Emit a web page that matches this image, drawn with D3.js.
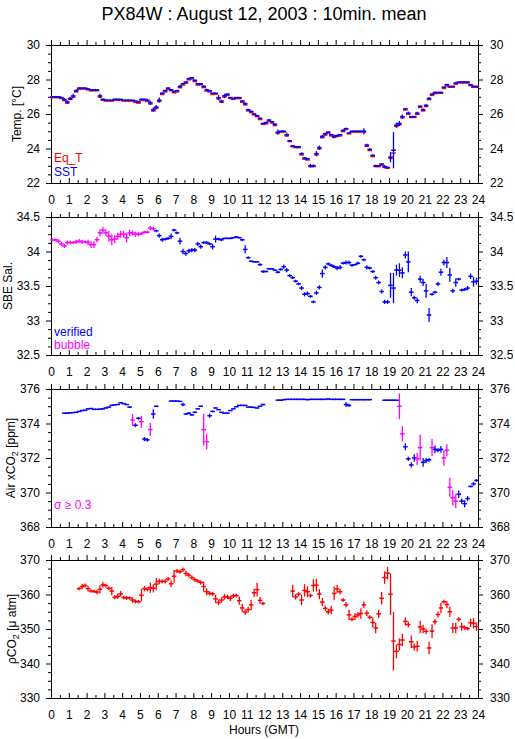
<!DOCTYPE html>
<html><head><meta charset="utf-8">
<script src="https://cdn.jsdelivr.net/npm/d3@7"></script>
<style>
body{margin:0;background:#fff}
text{font-family:"Liberation Sans",Arial,Helvetica,sans-serif}
</style>
</head><body>
<svg id="chart" width="515" height="739"></svg>
<script>
// ---------------- DATA (10-minute means; 6 slots per hour) ----------------
const titleText = "PX84W : August 12, 2003 : 10min. mean";
const xTickLabels = ["0","1","2","3","4","5","6","7","8","9","10","11","12","13","14","15","16","17","18","19","20","21","22","23","24"];
const tempTicks = [22,24,26,28,30];
const salTicks = [32.5,33,33.5,34,34.5];
const airTicks = [368,370,372,374,376];
const pco2Ticks = [330,340,350,360,370];

const sst = [
 27.0,27.0,27.0,26.95,26.85,26.7,
 26.9,27.05,27.35,27.5,27.5,27.5,
 27.45,27.4,27.4,27.4,27.05,26.85,
 26.8,26.8,26.8,26.85,26.85,26.85,
 26.8,26.8,26.8,26.8,26.75,26.7,
 26.85,26.85,26.8,26.65,26.25,26.4,
 26.8,27.2,27.35,27.5,27.4,27.3,
 27.35,27.6,27.75,27.85,28.05,28.1,
 27.95,27.75,27.75,27.6,27.4,27.35,
 27.2,27.2,26.95,26.75,27.05,27.15,
 26.95,26.9,26.95,26.95,26.75,26.6,
 26.25,26.15,26.0,25.9,25.75,25.45,
 25.5,25.65,25.55,25.4,24.95,25.0,
 25.0,24.8,24.45,24.15,24.1,24.1,
 23.7,23.45,23.4,23.0,23.0,23.7,
 24.05,24.7,24.85,24.95,24.8,24.7,
 24.75,24.8,25.05,25.15,24.9,25.0,
 25.0,25.0,25.0,25.0,24.2,23.95,
 23.6,23.0,23.0,23.1,22.95,22.9,
 23.5,23.9,25.35,25.45,25.85,26.3,
 26.05,25.85,25.85,26.05,26.45,26.25,
 26.5,26.9,27.15,27.25,27.25,27.25,
 27.55,27.7,27.6,27.6,27.8,27.85,
 27.85,27.85,27.85,27.7,27.6,27.6];
const sstSd = [
 0,0,0,0.05,0.08,0.1,
 0.1,0.12,0.08,0.05,0.03,0.03,
 0.03,0,0,0,0.12,0.05,
 0.05,0,0,0.03,0,0,
 0,0,0,0,0,0.05,
 0.05,0.03,0.08,0.12,0.12,0.12,
 0.15,0.08,0.06,0.05,0.05,0.05,
 0.05,0.1,0.06,0.05,0.05,0.04,
 0.05,0.04,0.04,0.08,0.06,0.04,
 0,0.05,0.15,0.08,0.12,0.06,
 0.04,0.03,0.03,0.03,0.05,0.08,
 0.05,0.04,0.04,0.04,0.04,0.05,
 0.05,0.05,0.05,0.08,0.15,0.03,
 0.03,0.12,0.06,0.06,0.05,0.05,
 0.08,0.06,0.06,0.1,0.08,0.15,
 0.12,0.1,0.08,0.04,0.06,0.1,
 0.05,0.05,0.06,0.05,0.05,0.03,
 0.03,0.03,0.03,0.18,0.08,0.06,
 0.06,0.06,0.03,0.06,0.1,0.05,
 0.3,1.05,0.15,0.15,0.12,0.05,
 0.1,0.03,0.03,0.08,0.05,0.08,
 0.08,0.08,0.05,0.04,0.03,0.04,
 0.05,0.05,0.03,0.03,0.04,0.03,
 0.03,0.03,0.03,0.03,0.03,0.03];
const eqT = [
 26.95,26.95,26.95,26.9,26.78,26.63,
 26.85,26.98,27.28,27.43,27.45,27.45,
 27.4,27.35,27.35,27.35,26.98,26.8,
 26.75,26.75,26.75,26.8,26.8,26.8,
 26.75,26.75,26.75,26.75,26.68,26.63,
 26.8,26.78,26.73,26.58,26.18,26.33,
 26.73,27.13,27.28,27.43,27.35,27.23,
 27.28,27.53,27.68,27.78,27.98,28.03,
 27.88,27.68,27.7,27.53,27.33,27.28,
 27.13,27.15,26.88,26.68,26.98,27.08,
 26.9,26.85,26.9,26.9,26.68,26.53,
 26.18,26.08,25.95,25.85,25.68,25.4,
 25.43,25.58,25.48,25.33,24.88,24.95,
 24.95,24.73,24.4,24.1,24.05,24.05,
 23.63,23.38,23.33,22.95,22.95,23.63,
 23.98,24.63,24.78,24.9,24.73,24.65,
 24.7,24.73,24.98,25.1,24.85,24.95,
 24.95,24.95,24.95,24.95,24.13,23.88,
 23.53,22.95,22.95,23.03,22.9,22.85,
 23.43,23.73,25.28,25.38,25.78,26.23,
 25.98,25.8,25.8,25.98,26.38,26.18,
 26.43,26.83,27.08,27.18,27.2,27.2,
 27.48,27.63,27.55,27.55,27.73,27.8,
 27.8,27.8,27.8,27.65,27.55,27.55];

const sal = [
 34.17,34.17,34.15,34.11,34.08,34.13,
 34.13,34.13,34.14,34.15,34.14,34.14,
 34.13,34.1,34.1,34.17,34.27,34.31,
 34.27,34.22,34.17,34.18,34.22,34.25,
 34.25,34.2,34.27,34.27,34.25,34.25,
 34.26,34.28,34.28,34.34,34.33,34.3,
 34.23,34.17,34.18,34.19,34.22,34.31,
 34.27,34.15,34.0,33.97,34.01,34.02,
 34.02,34.11,34.07,34.13,34.13,34.11,
 34.07,34.18,34.18,34.17,34.19,34.19,
 34.19,34.2,34.21,34.2,34.17,34.03,
 33.91,33.86,33.85,33.85,33.81,33.71,
 33.71,33.75,33.75,33.73,33.7,33.74,
 33.78,33.73,33.65,33.62,33.57,33.53,
 33.47,33.38,33.39,33.35,33.27,33.4,
 33.48,33.68,33.77,33.82,33.8,33.78,
 33.76,33.77,33.83,33.84,33.84,33.8,
 33.81,33.83,33.93,33.88,33.77,33.76,
 33.71,33.62,33.55,33.42,33.27,33.27,
 33.51,33.47,33.73,33.73,33.69,33.95,
 33.85,33.41,33.33,33.29,33.6,33.55,
 33.43,33.08,33.38,33.41,33.53,33.7,
 33.84,33.84,33.66,33.43,33.55,33.6,
 33.44,33.45,33.47,33.64,33.56,33.57];
const salSd = [
 0.02,0.02,0.03,0.03,0.03,0.03,
 0.03,0.02,0.03,0.03,0.03,0.02,
 0.04,0.05,0.05,0.04,0.05,0.05,
 0.05,0.08,0.08,0.06,0.05,0.05,
 0.05,0.07,0.05,0.04,0.04,0.03,
 0.02,0.02,0.02,0.03,0.03,0.02,
 0.03,0.03,0.02,0.02,0.04,0.02,
 0.02,0.05,0.04,0.03,0.03,0.03,
 0.03,0.03,0.03,0.02,0.02,0.02,
 0.04,0.05,0.02,0.02,0.01,0.01,
 0.01,0.01,0.01,0.01,0.02,0.06,
 0.02,0.01,0.01,0.01,0.02,0.02,
 0.01,0.01,0.01,0.01,0.02,0.02,
 0.03,0.03,0.02,0.02,0.02,0.02,
 0.03,0.03,0.03,0.02,0.02,0.03,
 0.03,0.06,0.03,0.02,0.02,0.02,
 0.03,0.03,0.02,0.03,0.03,0.02,
 0.01,0.02,0.02,0.02,0.03,0.02,
 0.02,0.03,0.03,0.03,0.03,0.03,
 0.18,0.22,0.08,0.1,0.08,0.05,
 0.15,0.06,0.03,0.04,0.05,0.05,
 0.1,0.1,0.02,0.02,0.03,0.05,
 0.04,0.08,0.1,0.03,0.06,0.02,
 0.02,0.02,0.03,0.04,0.07,0.05];
const salBubbleHours = [0, 5.833];   // flagged "bubble" period

const airX = [
 null,null,null,null,374.6,374.6,
 374.62,374.63,374.65,374.7,374.75,374.77,
 374.85,374.87,374.82,374.82,374.83,374.85,
 374.9,374.95,375.05,375.08,375.1,375.2,
 375.15,375.1,374.95,374.2,373.9,374.3,
 374.1,373.1,373.05,373.65,374.55,375.0,
 null,null,null,null,375.3,375.3,
 375.3,375.28,375.1,374.55,374.6,374.5,
 374.65,374.85,375.0,373.65,372.95,374.45,
 374.7,374.9,374.8,374.65,374.6,374.6,
 374.75,374.85,374.97,375.05,375.05,375.05,
 374.95,374.95,374.93,374.9,375.0,375.1,
 null,null,null,null,375.35,375.35,
 375.38,375.4,375.4,375.4,375.4,375.4,
 375.4,375.4,375.38,375.4,375.4,375.4,
 375.4,375.4,375.4,375.42,375.4,375.4,
 375.4,375.4,375.4,375.1,375.05,375.38,
 375.38,375.38,375.38,375.38,375.38,375.38,
 null,null,null,null,375.35,375.35,
 375.35,375.35,375.35,375.0,373.4,372.65,
 371.95,371.6,372.0,371.95,372.6,371.75,
 371.85,371.9,372.6,372.5,372.45,372.5,
 372.0,372.45,370.3,369.7,369.5,369.9,
 369.5,369.35,369.65,370.35,370.5,370.7];
const airSd = [
 0,0,0,0,0.02,0.02,
 0.02,0.02,0.02,0.02,0.02,0.02,
 0.02,0.02,0.02,0.02,0.02,0.02,
 0.02,0.02,0.03,0.02,0.02,0.03,
 0.02,0.02,0.05,0.35,0.12,0.08,
 0.35,0.12,0.1,0.38,0.28,0.05,
 0,0,0,0,0.02,0.02,
 0.02,0.02,0.1,0.05,0.05,0.05,
 0.05,0.03,0.03,0.92,0.45,0.12,
 0.05,0.03,0.03,0.02,0.02,0.02,
 0.02,0.02,0.02,0.02,0.02,0.02,
 0.02,0.02,0.02,0.03,0.03,0.05,
 0,0,0,0,0.02,0.02,
 0.02,0.02,0.02,0.02,0.02,0.02,
 0.02,0.02,0.02,0.02,0.02,0.02,
 0.02,0.02,0.02,0.02,0.02,0.02,
 0.02,0.02,0.02,0.15,0.1,0.02,
 0.02,0.02,0.02,0.02,0.02,0.02,
 0,0,0,0,0.02,0.02,
 0.02,0.02,0.02,0.75,0.45,0.2,
 0.12,0.15,0.22,0.35,0.75,0.25,
 0.15,0.12,0.5,0.22,0.12,0.2,
 0.45,0.35,0.55,0.45,0.4,0.22,
 0.15,0.2,0.15,0.05,0.1,0.08];
const sigmaLimit = 0.3;

const pco2 = [
 null,null,null,null,null,null,
 null,null,null,361.7,362.3,362.6,
 361.7,361.0,360.9,360.7,361.5,362.8,
 362.6,361.8,361.0,359.2,359.5,360.2,
 359.1,359.0,359.0,358.4,358.0,357.9,
 359.8,361.7,361.5,362.0,361.8,363.0,
 363.8,363.8,363.8,364.5,363.1,365.3,
 366.8,366.6,367.2,366.1,365.6,364.9,
 364.3,363.9,363.5,362.3,360.8,360.3,
 360.2,358.7,357.7,358.4,359.3,359.3,
 358.9,359.6,359.7,358.2,356.1,354.9,
 355.6,357.0,360.5,361.4,358.3,357.4,
 null,null,null,null,null,null,
 null,null,null,361.0,359.3,360.1,
 358.4,361.2,360.8,359.7,362.6,362.7,
 360.1,357.8,356.0,355.0,355.5,360.3,
 361.6,360.8,358.4,357.0,354.1,352.8,
 353.6,354.1,354.5,357.0,354.6,353.4,
 351.9,350.3,354.4,358.9,364.9,366.2,
 360.1,346.5,343.5,345.5,346.8,352.2,
 351.3,346.3,344.8,345.0,350.6,350.0,
 349.3,344.5,349.4,352.1,354.2,356.1,
 357.9,357.1,355.0,350.3,350.3,352.8,
 350.7,350.4,350.1,351.8,351.7,350.7];
const pco2Sd = [
 0,0,0,0,0,0,
 0,0,0,0.5,0.8,0.6,
 0.8,0.5,0.5,0.6,1.2,0.8,
 0.6,0.6,1.2,0.6,0.8,0.8,
 0.5,0.6,0.5,0.8,0.6,0.5,
 1.8,0.8,0.6,1.5,1.2,1.8,
 0.8,0.6,0.6,0.6,1.0,1.8,
 0.6,0.6,0.6,0.8,0.6,0.6,
 0.6,0.5,0.6,1.5,1.0,0.6,
 0.6,1.2,0.8,0.8,0.8,0.6,
 0.8,0.6,0.6,1.2,1.2,0.8,
 0.8,1.5,1.2,2.0,1.0,0.5,
 0,0,0,0,0,0,
 0,0,0,1.8,0.8,0.6,
 1.5,1.8,1.5,0.6,1.8,1.8,
 1.5,1.2,0.8,0.8,1.2,2.0,
 1.2,0.8,0.6,0.8,1.5,0.6,
 1.0,0.8,1.5,1.0,0.8,0.6,
 1.5,1.5,1.2,1.8,1.8,1.8,
 6.0,8.5,2.0,1.8,1.8,1.2,
 0.8,1.8,1.0,1.5,1.8,1.2,
 0.8,1.8,2.0,0.8,0.8,1.5,
 0.6,1.0,1.5,1.5,1.5,0.6,
 1.2,0.6,0.5,1.2,1.5,1.2];

// ---------------- LAYOUT ----------------
const BLUE="#0000ff", RED="#ff0000", MAG="#ff00ff";
const svg = d3.select("#chart");
const L=51, R=478, PH=138;
const x = d3.scaleLinear().domain([0,24]).range([L,R]);
const slotStart = d3.range(144).map(i => i/6);

svg.append("text").attr("x",264).attr("y",20).attr("text-anchor","middle")
  .attr("font-size",18).text(titleText);

function panel(top, domain, ticks, minorStep, yLabelParts, labelX, legend, seriesList){
  const y = d3.scaleLinear().domain(domain).range([top+PH, top]);
  const g = svg.append("g");
  const minor = d3.range(domain[0], domain[1]+1e-9, minorStep).filter(v => !ticks.some(t=>Math.abs(t-v)<1e-9));
  const hourVals = d3.range(0,25), halfVals = d3.range(0.5,24,1);
  const fmt = v => xTickLabels[v];
  const mk = (gen, tr) => { const a = g.append("g").attr("transform",tr).call(gen); a.select(".domain").remove(); a.selectAll("text").attr("font-size",12).attr("font-family",null); a.selectAll("line").attr("stroke-width",1); return a; };
  mk(d3.axisLeft(y).tickValues(ticks).tickSize(5).tickPadding(6).tickFormat(d=>String(d)), `translate(${L},0)`);
  mk(d3.axisLeft(y).tickValues(minor).tickSize(3).tickFormat(""), `translate(${L},0)`);
  mk(d3.axisRight(y).tickValues(ticks).tickSize(5).tickPadding(7).tickFormat(d=>String(d)), `translate(${R},0)`);
  mk(d3.axisRight(y).tickValues(minor).tickSize(3).tickFormat(""), `translate(${R},0)`);
  mk(d3.axisBottom(x).tickValues(hourVals).tickSize(-5).tickPadding(12).tickFormat(fmt), `translate(0,${top+PH})`);
  mk(d3.axisBottom(x).tickValues(halfVals).tickSize(-3).tickFormat(""), `translate(0,${top+PH})`);
  mk(d3.axisTop(x).tickValues(hourVals).tickSize(5).tickFormat(""), `translate(0,${top})`);
  mk(d3.axisTop(x).tickValues(halfVals).tickSize(3).tickFormat(""), `translate(0,${top})`);
  g.append("rect").attr("x",L+0.5).attr("y",top+0.5).attr("width",R-L).attr("height",PH)
    .attr("fill","none").attr("stroke","#000").attr("stroke-width",1);

  const t = g.append("text").attr("font-size",12).attr("text-anchor","middle")
    .attr("transform",`translate(${labelX},${top+PH/2}) rotate(-90)`);
  yLabelParts.forEach(p => {
    const ts = t.append("tspan").text(p.t);
    if (p.sub) ts.attr("font-size",9).attr("dy",3); else if (p.after) ts.attr("dy",-3);
  });

  legend.forEach(l => g.append("text").attr("x",54).attr("y",l.y).attr("font-size",12).attr("fill",l.c).text(l.t));

  seriesList.forEach(s => {
    const pts = s.vals.map((v,i)=>({v, sd: s.sd ? s.sd[i] : 0, i})).filter(d=>d.v!=null);
    const sg = g.append("g");
    sg.selectAll("line.h").data(pts).join("line")
      .attr("x1",d=>x(slotStart[d.i])-0.8).attr("x2",d=>x(slotStart[d.i]+1/6)+0.8)
      .attr("y1",d=>y(d.v)).attr("y2",d=>y(d.v))
      .attr("stroke",d=>s.color(d)).attr("stroke-width",1.5);
    sg.selectAll("line.v").data(pts.filter(d=>d.sd>0)).join("line")
      .attr("x1",d=>x(slotStart[d.i]+1/12)).attr("x2",d=>x(slotStart[d.i]+1/12))
      .attr("y1",d=>y(d.v-d.sd)).attr("y2",d=>y(d.v+d.sd))
      .attr("stroke",d=>s.color(d)).attr("stroke-width",1.3);
  });
}

panel(45,[22,30],tempTicks,0.5,[{t:"Temp. [°C]"}],20.5,
  [{t:"Eq_T",c:RED,y:162},{t:"SST",c:BLUE,y:176}],
  [{vals:eqT, sd:null, color:()=>RED},{vals:sst, sd:sstSd, color:()=>BLUE}]);

panel(217,[32.5,34.5],salTicks,0.125,[{t:"SBE Sal."}],11.5,
  [{t:"verified",c:BLUE,y:335.5},{t:"bubble",c:MAG,y:348.5}],
  [{vals:sal, sd:salSd, color:d=>(slotStart[d.i]>=salBubbleHours[0] && slotStart[d.i]<salBubbleHours[1]-1e-6)?MAG:BLUE}]);

panel(389,[368,376],airTicks,0.5,[{t:"Air xCO"},{t:"2",sub:true},{t:" [ppm]",after:true}],14.5,
  [{t:"σ ≥ 0.3",c:MAG,y:509}],
  [{vals:airX, sd:airSd, color:d=>d.sd>=sigmaLimit?MAG:BLUE}]);

panel(560,[330,370],pco2Ticks,2.5,[{t:"ρCO"},{t:"2",sub:true},{t:" [μ atm]",after:true}],16,
  [],
  [{vals:pco2, sd:pco2Sd, color:()=>RED}]);

svg.append("text").attr("x",264).attr("y",734).attr("text-anchor","middle").attr("font-size",12).text("Hours (GMT)");
</script>
</body></html>
